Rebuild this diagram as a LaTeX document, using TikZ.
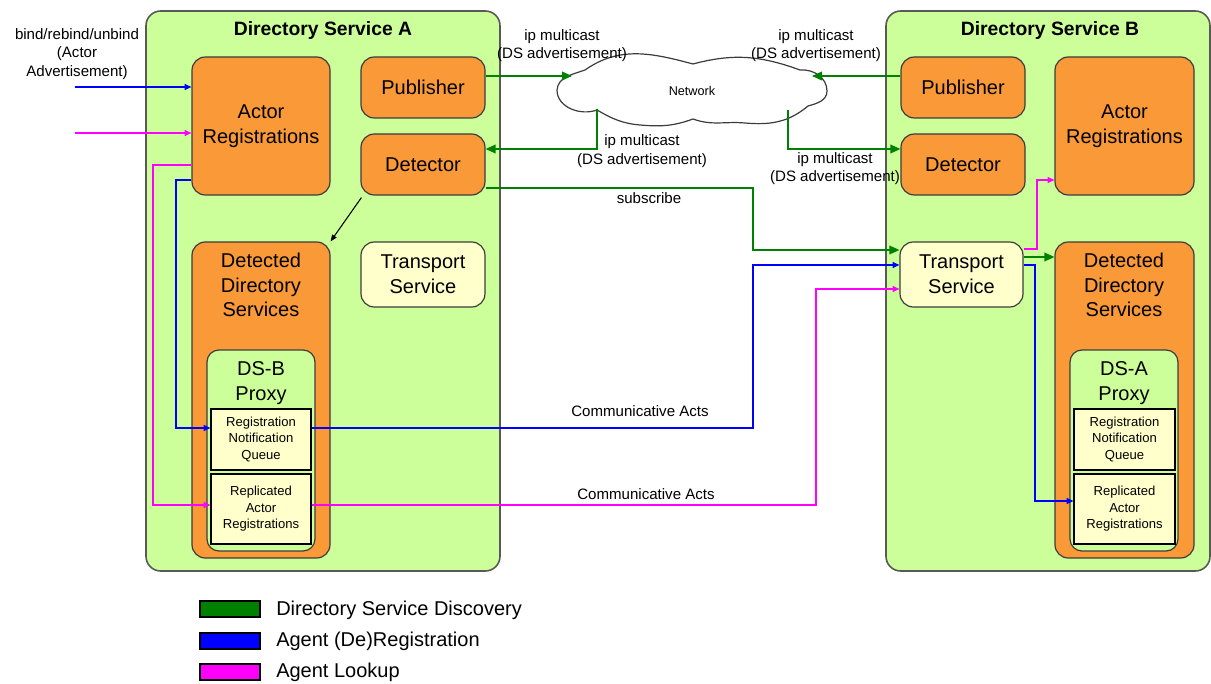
\documentclass[tikz,border=0pt]{standalone}
\usepackage{fontspec}
\setmainfont{Liberation Sans}
\usetikzlibrary{arrows.meta}
\definecolor{dsbg}{RGB}{204,255,153}
\definecolor{orng}{RGB}{250,153,56}
\definecolor{lyel}{RGB}{255,255,204}
\definecolor{gline}{RGB}{0,128,0}
\definecolor{bline}{RGB}{0,0,255}
\definecolor{mline}{RGB}{255,0,255}
\definecolor{edgec}{RGB}{60,60,60}
\newcommand\fbig{\fontsize{15}{18.5}\selectfont}
\newcommand\fttl{\fontsize{14.5}{17}\selectfont\bfseries}
\newcommand\flab{\fontsize{11.3}{14}\selectfont}
\newcommand\fsml{\fontsize{9.8}{12.4}\selectfont}
\tikzset{
  sz/.style 2 args={minimum width=#1*0.75pt, minimum height=#2*0.75pt},
  dsbox/.style={draw=edgec!85, line width=1.2pt, fill=dsbg, rounded corners=11pt, inner sep=0pt},
  obox/.style={draw=edgec, line width=0.9pt, fill=orng, rounded corners=10pt, inner sep=0pt, align=center, font=\fbig},
  ybox/.style={obox, fill=lyel},
  gbox/.style={obox, fill=dsbg, rounded corners=9pt},
  qbox/.style={draw=black, line width=0.9pt, fill=lyel, inner sep=0pt, align=center, font=\fsml},
  txt/.style={align=center, inner sep=0pt},
  lab/.style={align=center, inner sep=0pt, font=\flab},
  gar/.style={draw=gline, line width=1.1pt, -{Triangle[length=7.5pt,width=6.5pt]}},
  bar/.style={draw=bline, line width=1.1pt, -{Triangle[length=5pt,width=4.5pt]}},
  mar/.style={draw=mline, line width=1.1pt, -{Triangle[length=5pt,width=4.5pt]}},
  kar/.style={draw=black, line width=0.8pt, -{Triangle[length=5pt,width=4pt]}},
  legbox/.style={draw=black, line width=0.9pt, minimum width=45pt, minimum height=12pt, inner sep=0pt},
  legtxt/.style={anchor=west, inner sep=0pt, font=\fontsize{15}{18}\selectfont},
}
\begin{document}
\begin{tikzpicture}[x=0.75pt,y=-0.75pt]
\useasboundingbox (0,0) rectangle (1211,684);

% Directory Service A
\node[dsbox, sz={354}{560}] (dsA) at (323,291) {};
\node[txt, font=\fttl] (tA) at (323,30.5) {Directory Service A};
\node[obox, sz={138}{138}] (arA) at (261,126) {Actor\\Registrations};
\node[obox, sz={124}{61}] (pubA) at (423,87.5) {Publisher};
\node[obox, sz={124}{61}] (detA) at (423,164.5) {Detector};
\node[obox, sz={138}{316}] (ddsA) at (261,400) {};
\node[txt, font=\fbig] (ddsAt) at (261,285) {Detected\\Directory\\Services};
\node[gbox, sz={108}{201}] (pxA) at (261,450.5) {};
\node[txt, font=\fbig] (pxAt) at (261,383) {DS-B\\Proxy};
\node[qbox, sz={100}{61}] (rnqA) at (261,439.5) {Registration\\Notification\\Queue};
\node[qbox, sz={100}{70}] (rarA) at (261,509) {Replicated\\Actor\\Registrations};
\node[ybox, sz={124}{65}] (tsA) at (423,274.5) {Transport\\Service};

% Directory Service B
\node[dsbox, sz={324}{560}] (dsB) at (1048,291) {};
\node[txt, font=\fttl] (tB) at (1050,30.5) {Directory Service B};
\node[obox, sz={124}{61}] (pubB) at (963,87.5) {Publisher};
\node[obox, sz={124}{61}] (detB) at (963,164.5) {Detector};
\node[obox, sz={139}{138}] (arB) at (1124.5,126) {Actor\\Registrations};
\node[ybox, sz={123}{65}] (tsB) at (961.5,274.5) {Transport\\Service};
\node[obox, sz={139}{316}] (ddsB) at (1124.5,400) {};
\node[txt, font=\fbig] (ddsBt) at (1124,285) {Detected\\Directory\\Services};
\node[gbox, sz={108}{201}] (pxB) at (1124,450.5) {};
\node[txt, font=\fbig] (pxBt) at (1124,383) {DS-A\\Proxy};
\node[qbox, sz={101}{61}] (rnqB) at (1124.5,439.5) {Registration\\Notification\\Queue};
\node[qbox, sz={101}{70}] (rarB) at (1124.5,509) {Replicated\\Actor\\Registrations};

% Network cloud
\draw[draw=edgec, line width=0.9pt, fill=white]
  (557,90) to[out=85,in=200] (585,70) to[out=35,in=165] (693,64)
  to[out=15,in=160] (800,70) to[out=5,in=90] (827,91)
  to[out=-90,in=15] (808,106) to[out=-140,in=-5] (745,123)
  to[out=175,in=-20] (693,119) to[out=-160,in=-5] (640,125)
  to[out=175,in=-30] (597,110) to[out=-160,in=-90] (557,90) -- cycle;
\node[txt, font=\fontsize{9.5}{11}\selectfont] (net) at (692,91) {Network};
\coordinate (cA1) at (572,76);
\coordinate (cB1) at (812,76);
\coordinate (cA2) at (597,109);
\coordinate (cB2) at (788,110);

% green connectors
\draw[gar] (pubA.east |- 0,76) -- (cA1);
\draw[gar] (pubB.west |- 0,76) -- (cB1);
\draw[gar] (cA2) |- (detA.east |- 0,149);
\draw[gar] (cB2) |- (detB.west |- 0,149);
\draw[gar] (detA.east |- 0,188) -| (753,250) -- (tsB.west |- 0,250);
\draw[gar] (tsB.east |- 0,257) -- (ddsB.west |- 0,257);
\draw[kar] (detA.south west) ++(1,2) -- (ddsA.north east);

% blue connectors
\coordinate (inB) at (75,87);
\coordinate (inM) at (75,133);
\draw[bar] (inB) -- (inB -| arA.west);
\draw[bar] (arA.west |- 0,180) -| (176,428) -- (rnqA.west |- 0,428);
\draw[bar] (rnqA.east |- 0,428) -| (753,265) -- (tsB.west |- 0,265);
\draw[bar] (tsB.east |- 0,265) -| (1035,501) -- (rarB.west |- 0,501);

% magenta connectors
\draw[mar] (inM) -- (inM -| arA.west);
\draw[mar] (arA.west |- 0,165) -| (153,505) -- (rarA.west |- 0,505);
\draw[mar] (rarA.east |- 0,505) -| (816,289) -- (tsB.west |- 0,289);
\draw[mar] (tsB.east |- 0,249) -| (1037,180) -- (arB.west |- 0,180);

% labels
\node[lab] (l1) at (77,54) {bind/rebind/unbind\\(Actor\\Advertisement)};
\node[lab] (l2) at (562,45.5) {ip multicast\\(DS advertisement)};
\node[lab] (l3) at (816,45.5) {ip multicast\\(DS advertisement)};
\node[lab] (l4) at (642,151) {ip multicast\\(DS advertisement)};
\node[lab] (l5) at (835,168.5) {ip multicast\\(DS advertisement)};
\node[lab] (l6) at (649,198) {subscribe};
\node[lab] (l7) at (640,411) {Communicative Acts};
\node[lab] (l8) at (646,494) {Communicative Acts};

% legend
\node[legbox, fill=gline] (lg1) at (230,609) {};
\node[legbox, fill=bline] (lg2) at (230,641) {};
\node[legbox, fill=mline] (lg3) at (230,672) {};
\node[legtxt] (lt1) at (276,610) {Directory Service Discovery};
\node[legtxt] (lt2) at (276,641) {Agent (De)Registration};
\node[legtxt] (lt3) at (276,672) {Agent Lookup};
\end{tikzpicture}
\end{document}
